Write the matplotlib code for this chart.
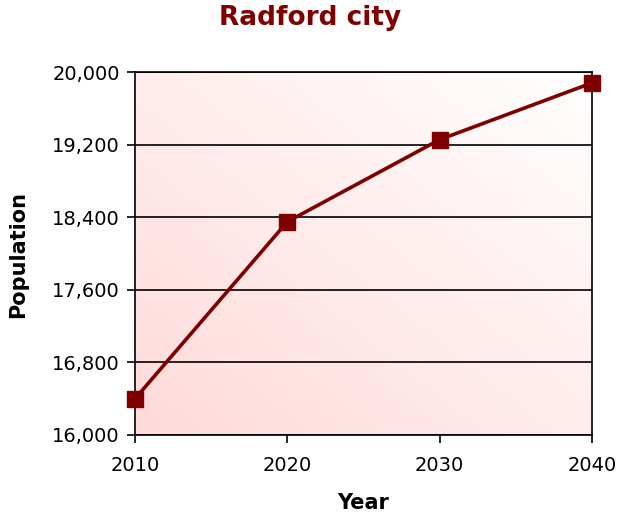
import matplotlib.pyplot as plt
import numpy as np
from matplotlib.colors import LinearSegmentedColormap
from matplotlib.ticker import FuncFormatter

years = [2010, 2020, 2030, 2040]
population = [16400, 18350, 19255, 19880]
y_ticks = [16000, 16800, 17600, 18400, 19200, 20000]

dark_red = '#800000'
W, H = 618, 519

fig = plt.figure(figsize=(W / 100, H / 100), dpi=100)
ax = fig.add_axes([135 / W, 1 - 435 / H, 457 / W, 363 / H])

# gradient background: pink bottom-left -> white top-right
n = 200
gx, gy = np.meshgrid(np.linspace(0, 1, n), np.linspace(0, 1, n))
grad = (gx + gy) / 2
cmap = LinearSegmentedColormap.from_list('pk', ['#ffdada', '#ffffff'])
ax.imshow(grad, cmap=cmap, origin='lower', extent=[0, 1, 0, 1],
          transform=ax.transAxes, aspect='auto', zorder=0)

ax.plot(years, population, color=dark_red, linewidth=2.6, marker='s',
        markersize=11, zorder=3, clip_on=False)

ax.set_xlim(2010, 2040)
ax.set_ylim(16000, 20000)
ax.set_xticks(years)
ax.set_yticks(y_ticks)
ax.yaxis.set_major_formatter(FuncFormatter(lambda v, p: f'{int(v):,}'))
ax.grid(axis='y', color='black', linewidth=1.2, zorder=1)
ax.set_axisbelow(True)
for s in ax.spines.values():
    s.set_linewidth(1.2)
    s.set_color('black')
ax.tick_params(axis='both', labelsize=14, length=6, width=1.2, colors='black')
ax.tick_params(axis='y', pad=5)
ax.tick_params(axis='x', pad=9)

fig.text(310 / W, 1 - 18 / H, 'Radford city', fontsize=19,
         fontweight='bold', color=dark_red, ha='center', va='center')
fig.text(363 / W, 1 - 503 / H, 'Year', fontsize=15,
         fontweight='bold', ha='center', va='center')
fig.text(18 / W, 1 - 254 / H, 'Population', fontsize=15, fontweight='bold',
         ha='center', va='center', rotation=90)

fig.savefig('out.png', dpi=100)
